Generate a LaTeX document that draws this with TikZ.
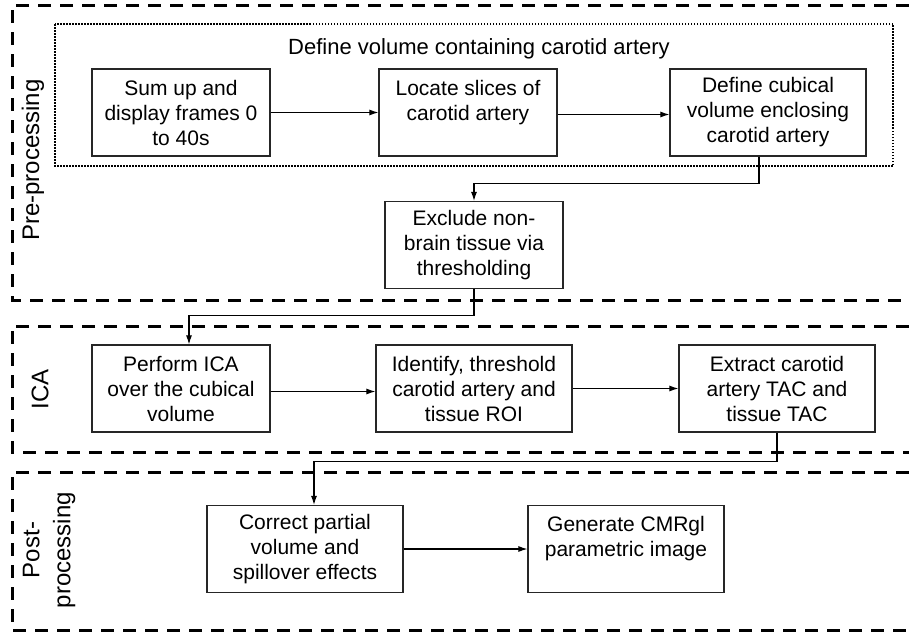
\documentclass[tikz,border=0pt]{standalone}
\usepackage{fontspec}
\setmainfont{Liberation Sans}
\usetikzlibrary{arrows.meta}
\begin{document}
\begin{tikzpicture}[x=1pt, y=-1pt,
  every node/.style={font=\fontsize{21}{25}\selectfont},
  box/.style={draw=black!85, line width=1.2pt, align=center, minimum height=87pt, inner sep=2pt},
  phase/.style={line width=3pt, dash pattern=on 13pt off 9pt},
  arr/.style={line width=1.1pt, -{Latex[length=9pt,width=6pt]}}]
  \useasboundingbox (0,0) rectangle (909,632);
  % phase frames, open to the right
  \draw[phase] (909,5) -| (12,300) -- (909,300);
  \draw[phase] (909,326) -| (12,452) -- (909,452);
  \draw[phase] (909,472) -| (12,630) -- (909,630);
  \node[rotate=90, font=\fontsize{24}{28}\selectfont] (lpre) at (33,160) {Pre-processing};
  \node[rotate=90, font=\fontsize{24}{28}\selectfont] (lica) at (40,389) {ICA};
  \node[rotate=90, align=center, font=\fontsize{24}{31}\selectfont] (lpost) at (49,550) {Post-\\processing};
  % volume definition
  \draw[line width=1.5pt, dash pattern=on 1.5pt off 1.5pt] (55,24) rectangle (893,166);
  \node[font=\fontsize{22}{26}\selectfont] (title) at (479,49) {Define volume containing carotid artery};
  \node[box, minimum width=178pt] (sum) at (181,112.5) {Sum up and\\display frames 0\\to 40s};
  \node[box, minimum width=178pt] (locate) at (468,112.5) {Locate slices of\\carotid artery\\~};
  \node[box, minimum width=196pt] (cubic) at (768,112.5) {Define cubical\\volume enclosing\\carotid artery};
  \node[box, minimum width=178pt] (excl) at (474,245) {Exclude non-\\brain tissue via\\thresholding};
  % ICA
  \node[box, minimum width=178pt] (ica) at (181,388.5) {Perform ICA\\over the cubical\\volume};
  \node[box, minimum width=196pt] (ident) at (474,388.5) {Identify, threshold\\carotid artery and\\tissue ROI};
  \node[box, minimum width=196pt] (extr) at (777,388.5) {Extract carotid\\artery TAC and\\tissue TAC};
  % post-processing
  \node[box, minimum width=196pt] (corr) at (305,549) {Correct partial\\volume and\\spillover effects};
  \node[box, minimum width=196pt] (gen) at (626,549) {Generate CMRgl\\parametric image\\~};
  % connectors
  \draw[arr] (sum.east) -- (locate.west);
  \draw[arr] ([yshift=-2pt]locate.east) -- ([yshift=-2pt]cubic.west);
  \draw[arr] ([xshift=-9pt]cubic.south) -- ++(0,27) -| (excl.north);
  \draw[arr] (excl.south) -- ++(0,26) -| ([xshift=8pt]ica.north);
  \draw[arr] ([yshift=-3pt]ica.east) -- ([yshift=-3pt]ident.west);
  \draw[arr] (ident.east) -- (extr.west);
  \draw[arr] (extr.south) -- ++(0,29) -| ([xshift=9pt]corr.north);
  \draw[arr] (corr.east) -- (gen.west);
\end{tikzpicture}
\end{document}
